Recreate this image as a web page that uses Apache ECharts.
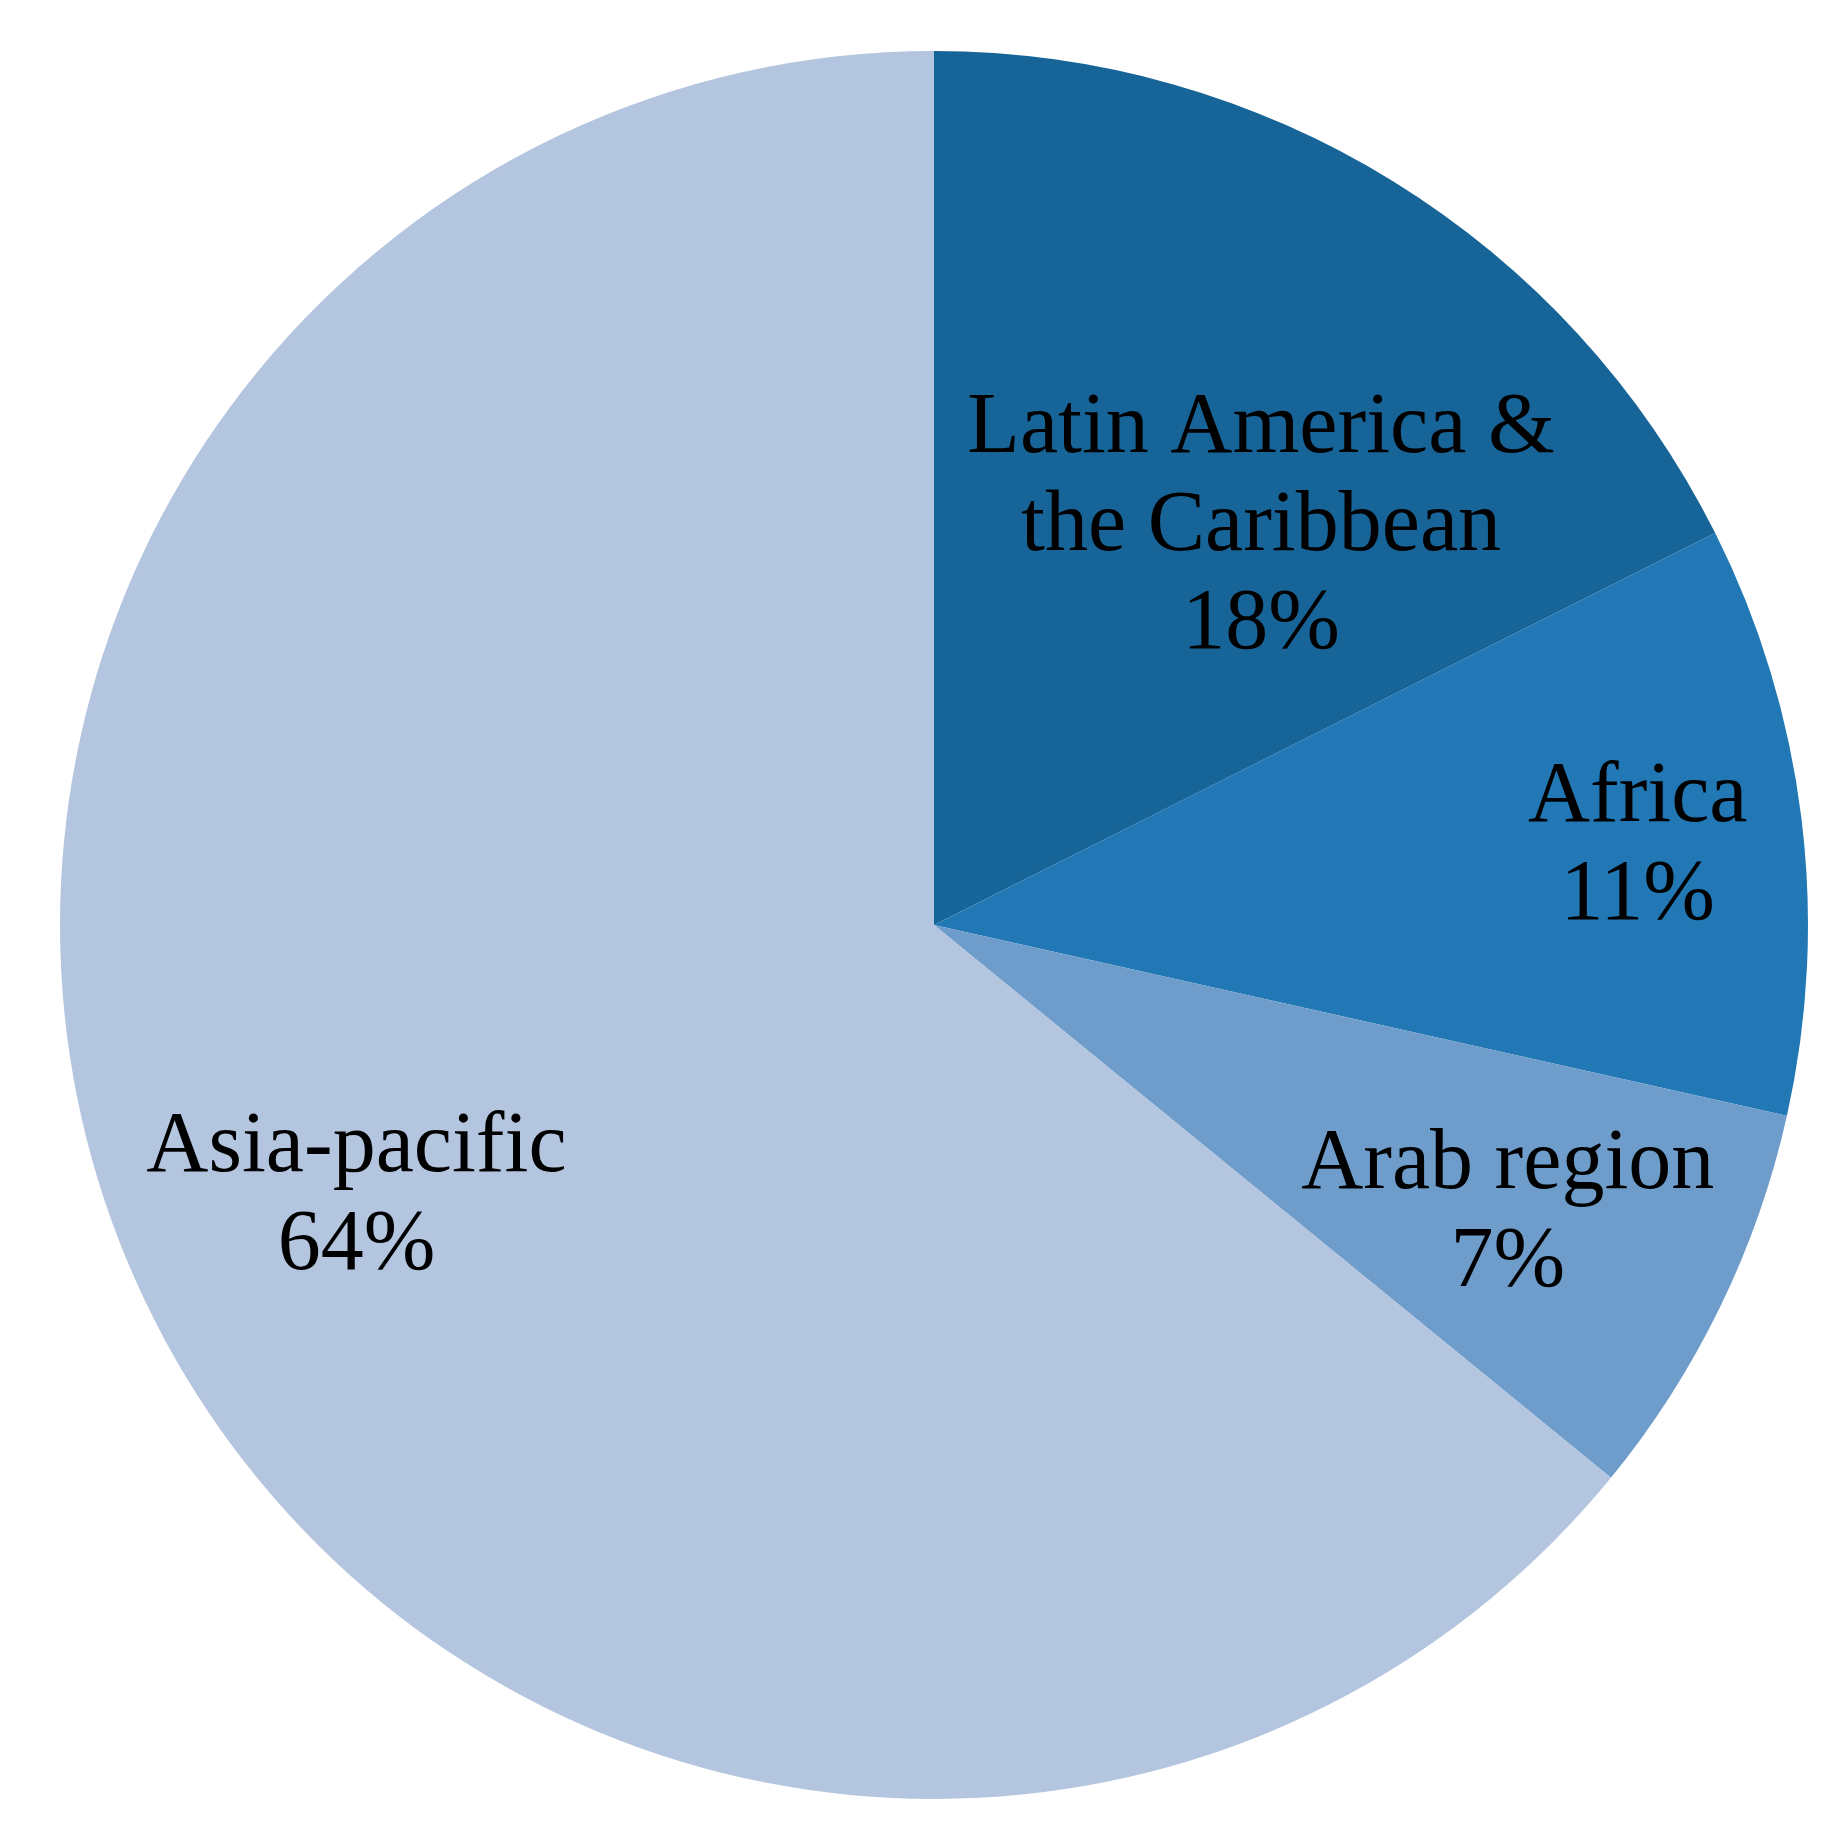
<!DOCTYPE html>
<html>
<head>
<meta charset="utf-8">
<script src="https://cdn.jsdelivr.net/npm/echarts@6/dist/echarts.min.js"></script>
<style>
  html, body { margin: 0; padding: 0; background: #fff; }
  #chart { width: 1838px; height: 1824px; }
</style>
</head>
<body>
<div id="chart"></div>
<script>
const regions = ['Latin America &\nthe Caribbean', 'Africa', 'Arab region', 'Asia-pacific']
const shares = [17.6, 10.9, 7.4, 64.1]
const colors = ['#176498', '#2178b4', '#6f9dcb', '#b4c5df']
// nudge labels to where the original places them
const labelOffsets = [[96, -23], [267, -24], [178, 97], [-180, 84]]

const chart = echarts.init(document.getElementById('chart'))

chart.setOption({
  animation: false,
  series: [{
    type: 'pie',
    center: [934, 925],
    radius: 874,
    startAngle: 90,
    clockwise: true,
    silent: true,
    label: {
      show: true,
      position: 'inside',
      fontFamily: 'Liberation Serif',
      fontSize: 86,
      lineHeight: 98,
      color: '#000',
      formatter: p => p.name + '\n' + Math.round(p.percent) + '%'
    },
    labelLine: { show: false },
    data: regions.map((name, i) => ({
      name,
      value: shares[i],
      itemStyle: { color: colors[i] },
      label: { offset: labelOffsets[i] }
    }))
  }]
})
</script>
</body>
</html>
